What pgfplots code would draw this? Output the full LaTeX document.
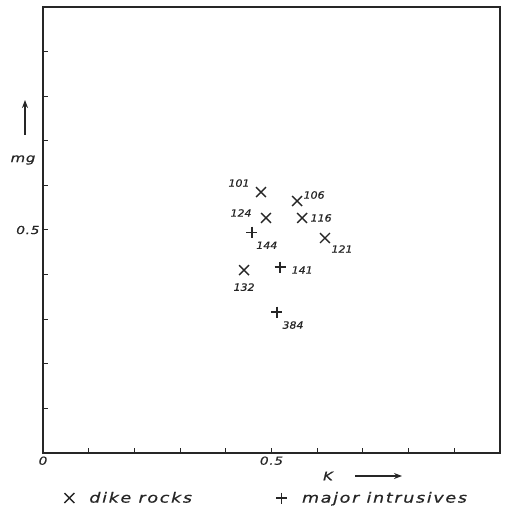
\documentclass[border=0pt]{standalone}
\usepackage{fontspec}
\setmainfont{DejaVu Sans}
\newfontfamily\hand{DejaVu Sans}[FakeStretch=1.1, FakeBold=0.6]
\newfontfamily\handmid{DejaVu Sans}[FakeStretch=1.25, LetterSpace=6, FakeBold=0.6]
\newfontfamily\handwide{DejaVu Sans}[FakeStretch=1.25, LetterSpace=12, FakeBold=0.6]
\usepackage{pgfplots}
\pgfplotsset{compat=1.18}
\usetikzlibrary{arrows.meta}
\definecolor{ink}{gray}{0.15}
\begin{document}
\begin{tikzpicture}[x=1pt,y=1pt]
\useasboundingbox (-43,-55) rectangle (463,453);
\begin{axis}[
  at={(0,0)}, anchor=south west,
  scale only axis, width=457pt, height=446pt,
  xmin=0, xmax=1, ymin=0, ymax=1,
  clip=false,
  axis line style={ink, line width=1.2pt},
  tick style={ink, line width=1pt},
  tick align=inside, major tick length=5pt,
  xtick pos=bottom, ytick pos=left,
  xtick={0,0.1,0.2,0.3,0.4,0.5,0.6,0.7,0.8,0.9},
  xticklabels={0,,,,,0.5,,,,},
  ytick={0.1,0.2,0.3,0.4,0.5,0.6,0.7,0.8,0.9},
  yticklabels={,,,,0.5,,,,},
  /pgf/number format/assume math mode=true,
  ticklabel style={font=\handmid\itshape\fontsize{11}{11}\selectfont, text=ink},
  legend columns=2,
  legend style={draw=none, fill=none, at={(axis cs:0.04,-0.101)}, anchor=west,
    font=\handwide\itshape\fontsize{14}{14}\selectfont, text=ink,
    /tikz/every odd column/.append style={column sep=13pt},
    /tikz/every even column/.append style={column sep=82pt}},
]
\addplot[only marks, mark=x, mark size=7pt, mark options={ink, line width=1.4pt}]
  coordinates {(0.477,0.585) (0.556,0.565) (0.488,0.527) (0.567,0.527) (0.617,0.482) (0.440,0.410)};
\addlegendentry{dike rocks}
\addplot[only marks, mark=+, mark size=5.5pt, mark options={ink, line width=1.4pt}]
  coordinates {(0.457,0.495) (0.519,0.417) (0.512,0.316)};
\addlegendentry{major intrusives}
\begin{scope}[every node/.style={font=\hand\itshape\fontsize{10}{10}\selectfont, text=ink}]
\node at ([xshift=-22pt,yshift=9pt]axis cs:0.477,0.585) {101};
\node at ([xshift=17pt,yshift=6pt]axis cs:0.556,0.565) {106};
\node at ([xshift=-25pt,yshift=5pt]axis cs:0.488,0.527) {124};
\node at ([xshift=19pt,yshift=0pt]axis cs:0.567,0.527) {116};
\node at ([xshift=17pt,yshift=-11pt]axis cs:0.617,0.482) {121};
\node at ([xshift=0pt,yshift=-17pt]axis cs:0.440,0.410) {132};
\node at ([xshift=15pt,yshift=-13pt]axis cs:0.457,0.495) {144};
\node at ([xshift=22pt,yshift=-3pt]axis cs:0.519,0.417) {141};
\node at ([xshift=16pt,yshift=-13pt]axis cs:0.512,0.316) {384};
\end{scope}
\end{axis}
\node[font=\handmid\itshape\fontsize{12}{12}\selectfont, text=ink] at (-20,293) {mg};
\draw[ink, line width=1.3pt, -{Stealth[length=8pt,width=6pt]}] (-18,318) -- (-18,353);
\node[font=\handmid\itshape\fontsize{12}{12}\selectfont, text=ink] at (285,-23) {K};
\draw[ink, line width=1.3pt, -{Stealth[length=8pt,width=6pt]}] (312,-23) -- (359,-23);
\end{tikzpicture}
\end{document}
